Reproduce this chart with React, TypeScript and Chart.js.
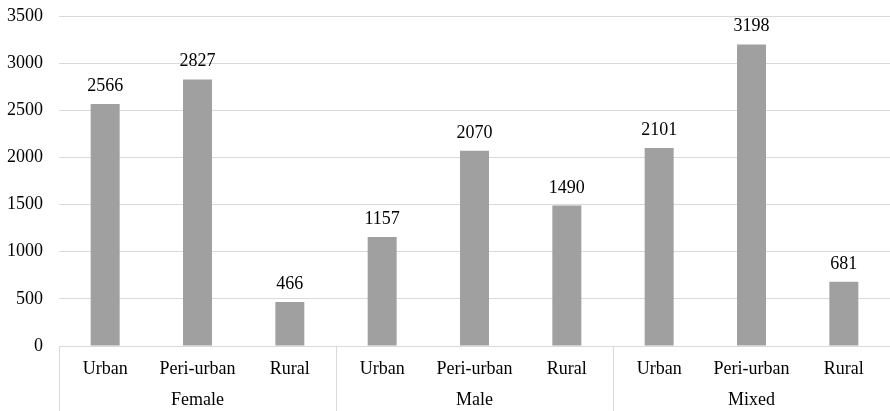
import React, { useEffect, useRef } from "react";
import { Chart, registerables } from "chart.js";

Chart.register(...registerables);

const subCategories = ["Urban", "Peri-urban", "Rural", "Urban", "Peri-urban", "Rural", "Urban", "Peri-urban", "Rural"];
const groups = ["Female", "Male", "Mixed"];
const groupSize = 3;
const values = [2566, 2827, 466, 1157, 2070, 1490, 2101, 3198, 681];
const yMax = 3500;
const yStep = 500;

const FONT = "'Liberation Serif', 'Times New Roman', serif";
const FS = 18;
const GRID = "#d9d9d9";

const groupPlugin = {
  id: "groupPlugin",
  afterDraw(chart: any) {
    const ctx = chart.ctx;
    const x = chart.scales.x;
    const area = chart.chartArea;
    const bottom = chart.height;
    ctx.save();
    ctx.font = `${FS}px ${FONT}`;
    ctx.fillStyle = "#000";
    ctx.textAlign = "center";
    ctx.textBaseline = "alphabetic";
    const meta = chart.getDatasetMeta(0);
    meta.data.forEach((bar: any, i: number) => {
      ctx.fillText(String(values[i]), bar.x, bar.y - 13);
    });
    ctx.strokeStyle = GRID;
    ctx.lineWidth = 1;
    const bounds: number[] = [];
    for (let g = 0; g <= groups.length; g++) {
      const idx = g * groupSize;
      let px: number;
      if (idx === 0) px = area.left;
      else if (idx >= subCategories.length) px = area.right;
      else px = (x.getPixelForValue(idx - 1) + x.getPixelForValue(idx)) / 2;
      bounds.push(px);
      const xx = Math.round(px) + 0.5;
      ctx.beginPath();
      ctx.moveTo(xx, area.bottom);
      ctx.lineTo(xx, bottom);
      ctx.stroke();
    }
    ctx.textBaseline = "middle";
    groups.forEach((g, i) => {
      ctx.fillText(g, (bounds[i] + bounds[i + 1]) / 2, 400);
    });
    ctx.restore();
  },
};

export default function App() {
  const ref = useRef<HTMLCanvasElement>(null);
  useEffect(() => {
    if (!ref.current) return;
    const chart = new Chart(ref.current, {
      type: "bar",
      data: {
        labels: subCategories,
        datasets: [
          {
            data: values,
            backgroundColor: "#a0a0a0",
            borderWidth: 0,
            barPercentage: 0.314,
            categoryPercentage: 1,
          },
        ],
      },
      options: {
        animation: false,
        responsive: false,
        maintainAspectRatio: false,
        layout: { padding: { top: 16, right: 0, left: 0, bottom: 0 } },
        plugins: { legend: { display: false }, tooltip: { enabled: false } },
        scales: {
          x: {
            grid: { display: false, drawTicks: false },
            border: { display: false },
            ticks: { color: "#000", font: { family: FONT, size: FS }, padding: 12, maxRotation: 0, autoSkip: false },
            afterFit(scale: any) {
              scale.height = 65;
            },
          },
          y: {
            min: 0,
            max: yMax,
            grid: { color: GRID, drawTicks: true, tickLength: 14, tickColor: "rgba(0,0,0,0)" },
            border: { display: false },
            ticks: {
              stepSize: yStep,
              color: "#000",
              font: { family: FONT, size: FS },
              padding: 2,
              callback: (v: any) => String(v),
            },
            afterFit(scale: any) {
              scale.width = 59;
            },
          },
        },
      },
      plugins: [groupPlugin],
    });
    return () => chart.destroy();
  }, []);
  return (
    <div style={{ position: "fixed", left: 0, top: 0, width: 890, height: 411, background: "#fff" }}>
      <canvas ref={ref} width={890} height={411} style={{ width: 890, height: 411 }} />
    </div>
  );
}
